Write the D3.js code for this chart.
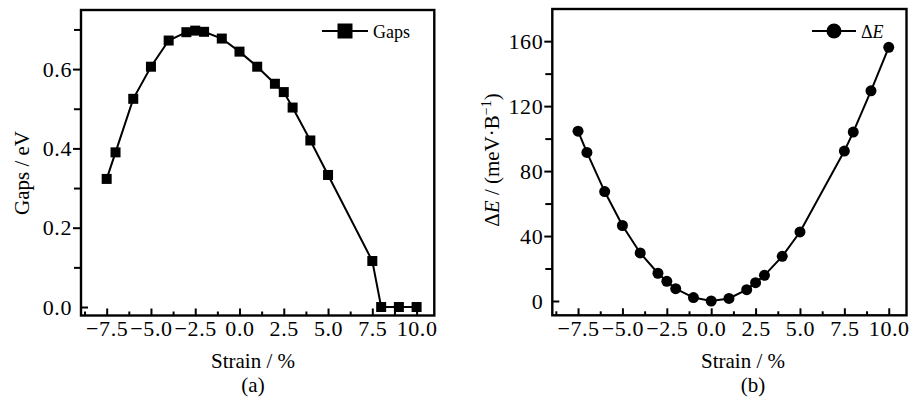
<!DOCTYPE html>
<html>
<head>
<meta charset="utf-8">
<script src="https://cdn.jsdelivr.net/npm/d3@7"></script>
<style>
  body { margin: 0; background: #fff; }
  svg { display: block; }
  svg text { font-family: "Liberation Serif", "Times New Roman", Times, "DejaVu Serif", serif; fill: #000; }
</style>
</head>
<body>
<svg id="chart" width="909" height="401"></svg>
<script>
// ---- data ----
const strain = [-7.5, -7, -6, -5, -4, -3, -2.5, -2, -1, 0, 1, 2, 2.5, 3, 4, 5, 7.5, 8, 9, 10];
const gaps = [0.323, 0.390, 0.525, 0.606, 0.672, 0.693, 0.697, 0.694, 0.677, 0.644, 0.606, 0.563, 0.542, 0.503, 0.420, 0.333, 0.116, 0, 0, 0];
const deltaE = [104.6, 91.5, 67.4, 46.5, 29.6, 17.1, 12.1, 7.6, 2.1, 0, 1.6, 7.0, 11.3, 15.8, 27.5, 42.5, 92.3, 104.0, 129.4, 156.2];
const xMajorTicks = [-7.5, -5, -2.5, 0, 2.5, 5, 7.5, 10];
const xMinorTicks = [-8.75, -6.25, -3.75, -1.25, 1.25, 3.75, 6.25, 8.75];
const gapMajorTicks = [0, 0.2, 0.4, 0.6];
const gapMinorTicks = [0.1, 0.3, 0.5, 0.7];
const eMajorTicks = [0, 40, 80, 120, 160];
const eMinorTicks = [20, 60, 100, 140];

const svg = d3.select("#chart");
const FS_TICK = 22;
const FS = 21;
const FS_LEG = 18;
const FF = '"Liberation Serif", "Times New Roman", Times, "DejaVu Serif", serif';

function panel(opts) {
  const x = d3.scaleLinear().domain([-8.95, 11.0]).range(opts.xr);
  const y = d3.scaleLinear().domain(opts.yd).range(opts.yr);
  const g = svg.append("g");
  const [x0, x1] = opts.xr, [y0, y1] = opts.yr;

  g.append("g").attr("transform", `translate(0,${y0})`)
    .call(d3.axisBottom(x).tickValues(xMajorTicks).tickSize(0).tickPadding(5).tickFormat(d3.format(".1f")))
    .call(s => s.select(".domain").remove())
    .call(s => s.selectAll("text").attr("font-size", FS_TICK).attr("font-family", FF).attr("letter-spacing", 0.6));
  g.append("g").attr("transform", `translate(0,${y0})`)
    .call(d3.axisBottom(x).tickValues(xMajorTicks).tickSize(-7).tickFormat(""))
    .call(s => s.select(".domain").remove())
    .call(s => s.selectAll("line").attr("stroke-width", 2));
  g.append("g").attr("transform", `translate(0,${y0})`)
    .call(d3.axisBottom(x).tickValues(xMinorTicks).tickSize(-4).tickFormat(""))
    .call(s => s.select(".domain").remove())
    .call(s => s.selectAll("line").attr("stroke-width", 2));

  g.append("g").attr("transform", `translate(${x0},0)`)
    .call(d3.axisLeft(y).tickValues(opts.yMajor).tickSize(0).tickPadding(9).tickFormat(opts.yfmt))
    .call(s => s.select(".domain").remove())
    .call(s => s.selectAll("text").attr("font-size", FS_TICK).attr("font-family", FF).attr("letter-spacing", 0.6));
  g.append("g").attr("transform", `translate(${x0},0)`)
    .call(d3.axisLeft(y).tickValues(opts.yMajor).tickSize(8).tickFormat(""))
    .call(s => s.select(".domain").remove())
    .call(s => s.selectAll("line").attr("stroke-width", 2)
      .attr("x2", d => d === 0 ? 7 : -8));
  g.append("g").attr("transform", `translate(${x0},0)`)
    .call(d3.axisLeft(y).tickValues(opts.yMinor).tickSize(7).tickFormat(""))
    .call(s => s.select(".domain").remove())
    .call(s => s.selectAll("line").attr("stroke-width", 2));

  g.append("rect").attr("x", x0).attr("y", y1).attr("width", x1 - x0).attr("height", y0 - y1)
    .attr("fill", "none").attr("stroke", "#000").attr("stroke-width", 2.4);

  const line = d3.line().x((d, i) => x(strain[i])).y(d => y(d));
  g.append("path").datum(opts.values).attr("d", line)
    .attr("fill", "none").attr("stroke", "#000").attr("stroke-width", 2);

  if (opts.marker === "square") {
    g.selectAll("rect.m").data(opts.values).join("rect").attr("class", "m")
      .attr("x", (d, i) => x(strain[i]) - 5).attr("y", d => y(d) - 5)
      .attr("width", 10).attr("height", 10).attr("fill", "#000");
  } else {
    g.selectAll("circle.m").data(opts.values).join("circle").attr("class", "m")
      .attr("cx", (d, i) => x(strain[i])).attr("cy", d => y(d)).attr("r", 5.5).attr("fill", "#000");
  }

  const L = opts.legend;
  g.append("line").attr("x1", L.x1).attr("x2", L.x2).attr("y1", L.y).attr("y2", L.y)
    .attr("stroke", "#000").attr("stroke-width", 2);
  const mx = (L.x1 + L.x2) / 2;
  if (opts.marker === "square") {
    g.append("rect").attr("x", mx - 7.5).attr("y", L.y - 7.5).attr("width", 15).attr("height", 15).attr("fill", "#000");
  } else {
    g.append("circle").attr("cx", mx).attr("cy", L.y).attr("r", 7.5).attr("fill", "#000");
  }
  const lt = g.append("text").attr("x", L.x2 + 5).attr("y", L.y + 6.5).attr("font-size", FS_LEG).attr("font-family", FF);
  L.label(lt);

  g.append("text").attr("x", opts.xlabX).attr("y", 368).attr("text-anchor", "middle")
    .attr("font-size", FS).attr("font-family", FF).text("Strain / %");
  g.append("text").attr("x", opts.capX).attr("y", 392).attr("text-anchor", "middle")
    .attr("font-size", FS).attr("font-family", FF).text(opts.cap);

  const yl = g.append("text").attr("transform", `translate(${opts.ylab[0]},${opts.ylab[1]}) rotate(-90)`)
    .attr("text-anchor", "middle").attr("font-size", FS).attr("font-family", FF);
  opts.ylabel(yl);
}

panel({
  xr: [81, 434.3], yr: [315.5, 10], yd: [-0.0214, 0.749],
  yMajor: gapMajorTicks, yMinor: gapMinorTicks, yfmt: d3.format(".1f"),
  values: gaps, marker: "square",
  legend: { x1: 322, x2: 368, y: 31, label: t => t.text("Gaps") },
  xlabX: 253, capX: 253, cap: "(a)",
  ylab: [29, 173],
  ylabel: t => t.text("Gaps / eV")
});

panel({
  xr: [552.3, 906.5], yr: [315.3, 9], yd: [-8.8, 179.8],
  yMajor: eMajorTicks, yMinor: eMinorTicks, yfmt: d3.format("d"),
  values: deltaE, marker: "circle",
  legend: { x1: 812, x2: 856, y: 31, label: t => { t.append("tspan").text("\u0394"); t.append("tspan").attr("font-style", "italic").text("E"); } },
  xlabX: 743, capX: 753, cap: "(b)",
  ylab: [499, 160],
  ylabel: t => {
    t.append("tspan").text("\u0394");
    t.append("tspan").attr("font-style", "italic").text("E");
    t.append("tspan").text(" / (meV\u00B7B");
    t.append("tspan").attr("font-size", 14).attr("dy", -8).text("\u22121");
    t.append("tspan").attr("dy", 8).text(")");
  }
});
</script>
</body>
</html>
